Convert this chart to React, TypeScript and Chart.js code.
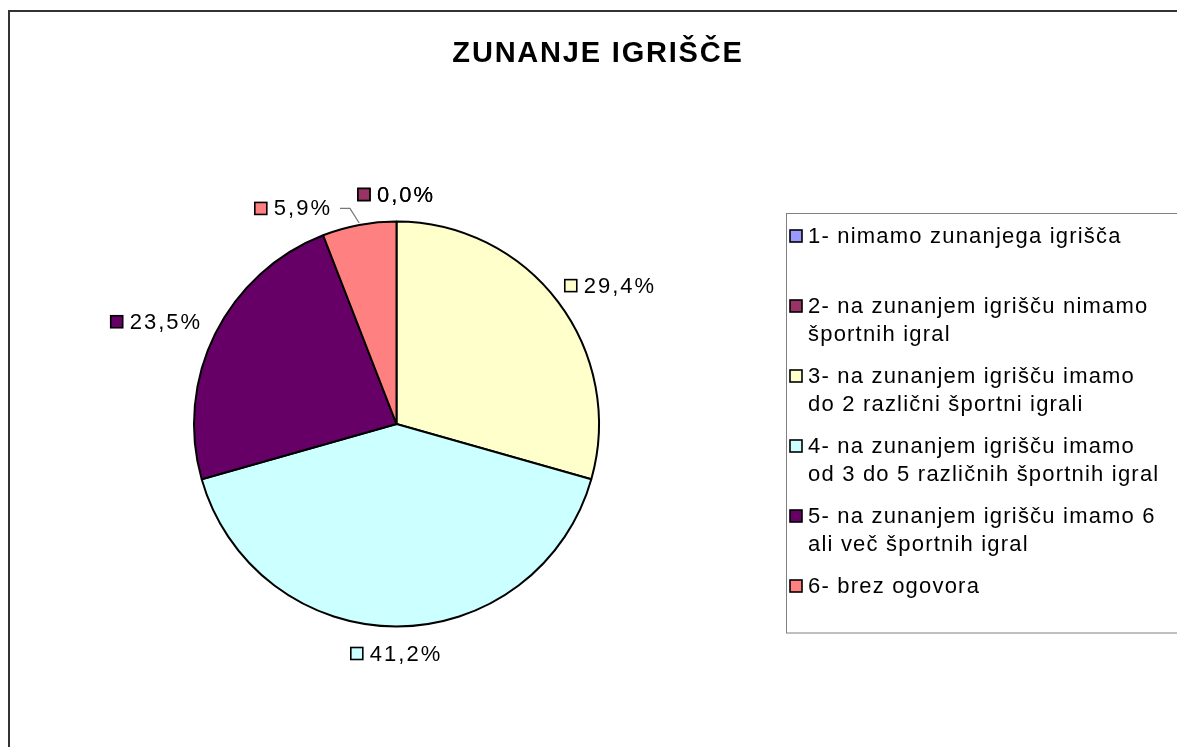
import React, { useEffect, useRef } from "react";
import { Chart, registerables } from "chart.js";

Chart.register(...registerables);

const chartTitle = "ZUNANJE IGRIŠČE";
const categories: string[][] = [
  ["1- nimamo zunanjega igrišča", ""],
  ["2- na zunanjem igrišču nimamo", "športnih igral"],
  ["3- na zunanjem igrišču imamo", "do 2 različni športni igrali"],
  ["4- na zunanjem igrišču imamo", "od 3 do 5 različnih športnih igral"],
  ["5- na zunanjem igrišču imamo 6", "ali več športnih igral"],
  ["6- brez ogovora"],
];
const percentValues = [0.0, 0.0, 29.4, 41.2, 23.5, 5.9];
const valueLabels = ["0,0%", "0,0%", "29,4%", "41,2%", "23,5%", "5,9%"];
const sliceColors = ["#9999FF", "#993366", "#FFFFCC", "#CCFFFF", "#660066", "#FF8080"];

const FONT = '"Liberation Sans", Arial, sans-serif';
const W = 1177;
const H = 747;

// label nudges (layout only) for slices whose labels were dragged away in the original
const labelNudge: Record<number, [number, number]> = { 5: [-55, 10] };

const overlayPlugin = {
  id: "excelOverlay",
  afterDraw(chart: any) {
    const ctx: CanvasRenderingContext2D = chart.ctx;
    ctx.save();

    // outer frame
    ctx.strokeStyle = "#333333";
    ctx.lineWidth = 2;
    ctx.beginPath();
    ctx.moveTo(9, H + 5);
    ctx.lineTo(9, 11);
    ctx.lineTo(W + 5, 11);
    ctx.stroke();

    // title
    ctx.fillStyle = "#000";
    ctx.font = `bold 29px ${FONT}`;
    (ctx as any).letterSpacing = "1.8px";
    ctx.textAlign = "center";
    ctx.textBaseline = "middle";
    ctx.fillText(chartTitle, 598, 54);

    // legend box
    ctx.strokeStyle = "#808080";
    ctx.lineWidth = 1;
    ctx.strokeRect(786.5, 213.5, 420, 419.5);

    // legend entries
    ctx.font = `22px ${FONT}`;
    (ctx as any).letterSpacing = "1.2px";
    ctx.textAlign = "left";
    categories.forEach((lines, i) => {
      const y0 = 236 + i * 70;
      ctx.fillStyle = sliceColors[i];
      ctx.fillRect(790, y0 - 6, 12, 12);
      ctx.strokeStyle = "#000";
      ctx.lineWidth = 1.6;
      ctx.strokeRect(790, y0 - 6, 12, 12);
      ctx.fillStyle = "#000";
      lines.forEach((ln, j) => {
        if (ln) ctx.fillText(ln, 808, y0 + j * 28 + 1);
      });
    });

    // data labels
    const meta = chart.getDatasetMeta(0);
    ctx.font = `22px ${FONT}`;
    (ctx as any).letterSpacing = "2px";
    meta.data.forEach((arc: any, i: number) => {
      const p = arc.getProps(["x", "y", "startAngle", "endAngle", "outerRadius"], true);
      const mid = (p.startAngle + p.endAngle) / 2;
      const dx = Math.cos(mid);
      const dy = Math.sin(mid);
      const tw = ctx.measureText(valueLabels[i]).width;
      const bw = 12 + 7 + tw;
      const bh = 14;
      const ax = p.x + dx * (p.outerRadius + 20);
      const ay = p.y + dy * (p.outerRadius + 20);
      let cx = ax + (dx * bw) / 2;
      let cy = ay + (dy * bh) / 2;
      const nudge = labelNudge[i];
      if (nudge) {
        cx += nudge[0];
        cy += nudge[1];
      }
      const left = cx - bw / 2;
      // key square
      ctx.fillStyle = sliceColors[i];
      ctx.fillRect(left, cy - 6, 12, 12);
      ctx.strokeStyle = "#000";
      ctx.lineWidth = 1.6;
      ctx.strokeRect(left, cy - 6, 12, 12);
      ctx.fillStyle = "#000";
      ctx.textAlign = "left";
      ctx.textBaseline = "middle";
      ctx.fillText(valueLabels[i], left + 19, cy + 1);
      if (nudge) {
        const ex = p.x + dx * p.outerRadius;
        const ey = p.y + dy * p.outerRadius;
        const sx = left + bw + 8;
        ctx.strokeStyle = "#777777";
        ctx.lineWidth = 1.2;
        ctx.beginPath();
        ctx.moveTo(sx, cy);
        ctx.lineTo(sx + 10, cy);
        ctx.lineTo(ex, ey - 2);
        ctx.stroke();
      }
    });

    ctx.restore();
  },
};

export default function App() {
  const canvasRef = useRef<HTMLCanvasElement | null>(null);

  useEffect(() => {
    if (!canvasRef.current) return;
    const chart = new Chart(canvasRef.current, {
      type: "pie",
      data: {
        labels: categories.map((l) => l.join(" ").trim()),
        datasets: [
          {
            data: percentValues,
            backgroundColor: sliceColors,
            borderColor: "#000000",
            borderWidth: 2,
          },
        ],
      },
      options: {
        responsive: false,
        animation: false,
        devicePixelRatio: 1,
        layout: { padding: { left: 193, right: 577, top: 220, bottom: 119 } },
        plugins: {
          legend: { display: false },
          tooltip: { enabled: false },
          title: { display: false },
        },
      },
      plugins: [overlayPlugin],
    });
    return () => chart.destroy();
  }, []);

  return (
    <div style={{ position: "fixed", left: 0, top: 0, width: W, height: H, background: "#fff" }}>
      <canvas ref={canvasRef} width={W} height={H} style={{ display: "block", width: W, height: H }} />
    </div>
  );
}
